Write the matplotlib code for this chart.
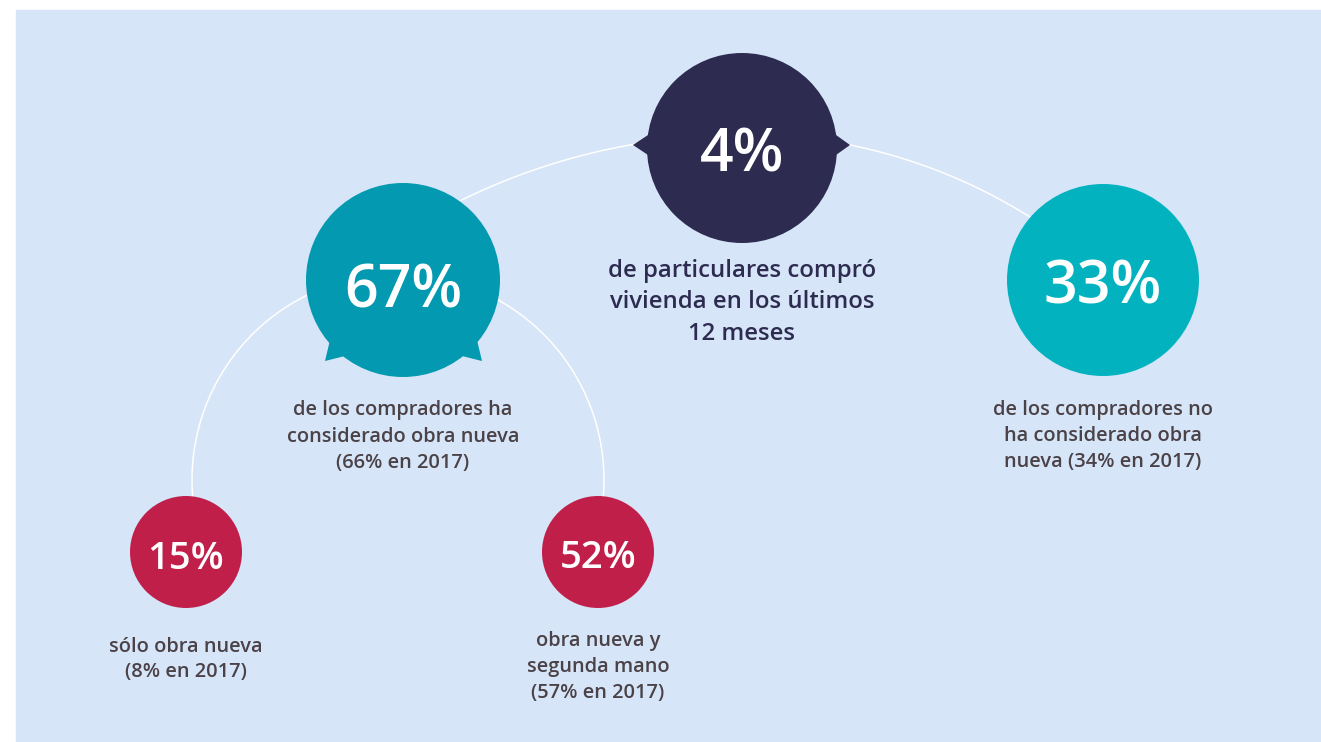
import matplotlib.pyplot as plt
import numpy as np
from matplotlib.patches import Circle, Polygon, Rectangle

plt.rcParams['font.family'] = ['Open Sans', 'DejaVu Sans']

# values shown in the bubbles
values = [4, 67, 33, 15, 52]
captions = [
    ["de particulares compró", "vivienda en los últimos", "12 meses"],
    ["de los compradores ha", "considerado obra nueva", "(66% en 2017)"],
    ["de los compradores no", "ha considerado obra", "nueva (34% en 2017)"],
    ["sólo obra nueva", "(8% en 2017)"],
    ["obra nueva y", "segunda mano", "(57% en 2017)"],
]

# layout (pixels, y downwards)
centers = [(742, 148), (403, 280), (1103, 280), (186, 552), (598, 552)]
radii = [95, 97, 96, 56, 56]
colors = ["#2e2b50", "#0399b0", "#02b3bf", "#c01f4a", "#c01f4a"]
num_base = [172, 307, 303, 569, 568]
num_size = [42.5, 42.5, 42.5, 27.5, 27.5]
cap_base = [[277, 308.5, 340], [415, 442, 468], [415, 441, 467], [652, 677], [646, 672, 698]]
cap_size = [17.2, 14.4, 14.4, 14.4, 14.4]
cap_color = ["#2e2b50", "#4b4247", "#4b4247", "#4b4247", "#4b4247"]
bg = "#d6e5f7"

fig = plt.figure(figsize=(13.21, 7.42), dpi=100)
ax = fig.add_axes([0, 0, 1, 1])
ax.set_xlim(0, 1321)
ax.set_ylim(742, 0)
ax.axis("off")

ax.add_patch(Rectangle((16, 10), 1321 - 16, 742 - 10, color=bg, zorder=0))

# connecting arcs
def arc(cx, cy, r, x0, x1):
    xs = np.linspace(x0, x1, 200)
    ys = cy - np.sqrt(r ** 2 - (xs - cx) ** 2)
    ax.plot(xs, ys, color="white", lw=1.1, zorder=1)

arc(741.5, 770.6, 635.5, 420, 742)
arc(741.5, 677, 543, 742, 1060)
t = np.linspace(np.radians(-5), np.radians(185), 300)
ax.plot(398 + 206 * np.cos(t), 480 - 206 * np.sin(t), color="white", lw=1.1, zorder=1)

# bubbles
for (cx, cy), r, c in zip(centers, radii, colors):
    ax.add_patch(Circle((cx, cy), r, color=c, zorder=2, lw=0))

# speech-bubble pointers
ax.add_patch(Polygon([[648, 135], [633, 145], [648, 155]], color=colors[0], zorder=2, lw=0))
ax.add_patch(Polygon([[836, 135], [850, 145], [836, 155]], color=colors[0], zorder=2, lw=0))
ax.add_patch(Polygon([[330, 340], [325, 361], [345, 356]], color=colors[1], zorder=2, lw=0))
ax.add_patch(Polygon([[477, 340], [482, 361], [462, 356]], color=colors[1], zorder=2, lw=0))

for i, v in enumerate(values):
    cx = centers[i][0]
    ax.text(cx, num_base[i], f"{v}%", color="white", fontsize=num_size[i],
            fontweight="semibold", ha="center", va="baseline", zorder=3)
    for line, yb in zip(captions[i], cap_base[i]):
        ax.text(cx, yb, line, color=cap_color[i], fontsize=cap_size[i],
                fontweight="semibold", ha="center", va="baseline", zorder=3)

fig.savefig("out.png", dpi=100)
